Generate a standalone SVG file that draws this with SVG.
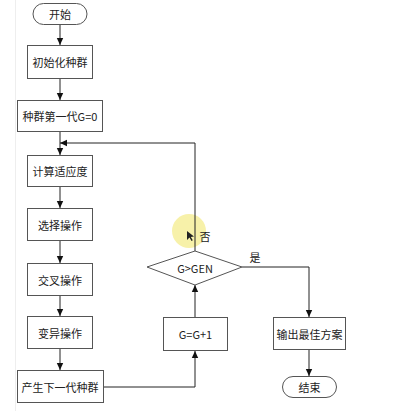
<svg xmlns="http://www.w3.org/2000/svg" width="412" height="411" viewBox="0 0 412 411">
<defs>
<style>
.box{fill:#fff;stroke:#555;stroke-width:1}
.t{font-family:"Noto Sans CJK SC","Liberation Sans",sans-serif;font-size:11px;fill:#222;text-anchor:middle;dominant-baseline:central}
.c{fill:none;stroke:#222;stroke-width:1}
</style>
<marker id="a" markerWidth="8" markerHeight="8" refX="7" refY="4" orient="auto" markerUnits="userSpaceOnUse">
<path d="M0,0.8 L7,4 L0,7.2 z" fill="#111"/>
</marker>
</defs>
<rect width="412" height="411" fill="#fff"/>
<line x1="15.5" y1="0" x2="15.5" y2="411" stroke="#eee" stroke-width="1"/>
<circle cx="189" cy="231" r="17" fill="#f6ee9a" opacity="0.85"/>
<g id="connectors">
<line class="c" x1="60" y1="25" x2="60" y2="45" marker-end="url(#a)"/>
<line class="c" x1="60" y1="79" x2="60" y2="100" marker-end="url(#a)"/>
<line class="c" x1="60" y1="132" x2="60" y2="155" marker-end="url(#a)"/>
<line class="c" x1="60" y1="187" x2="60" y2="208" marker-end="url(#a)"/>
<line class="c" x1="60" y1="241" x2="60" y2="263" marker-end="url(#a)"/>
<line class="c" x1="60" y1="296" x2="60" y2="316" marker-end="url(#a)"/>
<line class="c" x1="60" y1="349" x2="60" y2="370" marker-end="url(#a)"/>
<polyline class="c" points="104,387 195,387 195,351" marker-end="url(#a)"/>
<line class="c" x1="195" y1="317" x2="195" y2="285" marker-end="url(#a)"/>
<polyline class="c" points="195,251 195,143 60,143" marker-end="url(#a)"/>
<polyline class="c" points="242,267 309,267 309,317" marker-end="url(#a)"/>
<line class="c" x1="309" y1="350" x2="309" y2="376" marker-end="url(#a)"/>
<text class="t" x="205" y="236">否</text>
<text class="t" x="255" y="257">是</text>
</g>
<g id="start"><rect class="box" x="33" y="3.5" width="54" height="21" rx="10.5"/><text class="t" x="60" y="14">开始</text></g>
<g id="init"><rect class="box" x="27.5" y="45.5" width="65" height="33"/><text class="t" x="60" y="62">初始化种群</text></g>
<g id="gen0"><rect class="box" x="17.5" y="100.5" width="85" height="31"/><text class="t" x="60" y="116">种群第一代G=0</text></g>
<g id="fitness"><rect class="box" x="27.5" y="155.5" width="65" height="31"/><text class="t" x="60" y="171">计算适应度</text></g>
<g id="select"><rect class="box" x="27.5" y="208.5" width="65" height="32"/><text class="t" x="60" y="224.5">选择操作</text></g>
<g id="cross"><rect class="box" x="27.5" y="263.5" width="65" height="32"/><text class="t" x="60" y="279.5">交叉操作</text></g>
<g id="mutate"><rect class="box" x="27.5" y="316.5" width="65" height="32"/><text class="t" x="60" y="332.5">变异操作</text></g>
<g id="next"><rect class="box" x="17.5" y="370.5" width="86" height="32"/><text class="t" x="60" y="386.5">产生下一代种群</text></g>
<g id="inc"><rect class="box" x="163.5" y="317.5" width="64" height="33"/><text class="t" x="195.5" y="334">G=G+1</text></g>
<g id="decision"><polygon class="box" points="195,251 242,267 195,285 147,267"/><text class="t" x="195" y="268">G&gt;GEN</text></g>
<g id="output"><rect class="box" x="273.5" y="317.5" width="72" height="32"/><text class="t" x="309.5" y="333.5">输出最佳方案</text></g>
<g id="end"><rect class="box" x="282.5" y="376.5" width="54" height="21" rx="10.5"/><text class="t" x="309.5" y="387">结束</text></g>
<path d="M187,231 L187,240 L189.5,237.5 L191.5,241 L192.8,240.3 L190.8,237 L194,236.5 z" fill="#222"/>
</svg>
